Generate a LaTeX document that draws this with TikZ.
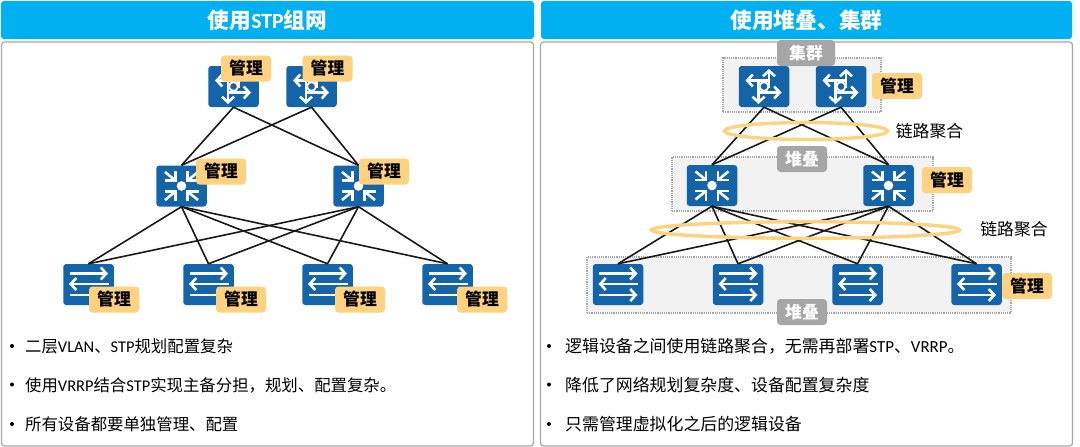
\documentclass[tikz,border=0pt]{standalone}
\usepackage{fontspec}
\usepackage{xcolor}
\setmainfont{Noto Sans CJK SC}
\newfontfamily\latfont{Carlito}
\usetikzlibrary{positioning, arrows.meta, shapes.geometric, calc}

\newcommand{\lat}[1]{{\latfont #1}}
\definecolor{headblue}{HTML}{00B0F0}
\definecolor{devblue}{HTML}{1464AA}
\definecolor{tagyellow}{HTML}{FFD27F}
\definecolor{panelgray}{HTML}{A6A6A6}

\tikzset{
    headbar/.style={fill=headblue, rounded corners=3pt, minimum width=533pt, minimum height=38pt,
        inner sep=0pt, text=white, font=\fontsize{21.7}{24}\selectfont\bfseries},
    panel/.style={draw=panelgray, line width=1.2pt, rounded corners=3pt, fill=white,
        minimum width=532pt, minimum height=404pt, inner sep=0pt},
    device/.style={fill=devblue, rounded corners=3pt, minimum width=50.5pt, minimum height=41pt, inner sep=0pt},
    mgmt/.style={fill=tagyellow, rounded corners=3.5pt, minimum width=50pt, minimum height=26pt, inner sep=0pt,
        font=\fontsize{16.8}{20}\selectfont\bfseries},
    graytag/.style={fill=panelgray, rounded corners=3.5pt, minimum width=50pt, minimum height=26pt, inner sep=0pt,
        text=white, font=\fontsize{16.8}{20}\selectfont\bfseries},
    groupbox/.style={draw=panelgray, densely dotted, line width=1.2pt, fill=black!5, inner sep=0pt},
    link/.style={line width=1.6pt, black!90},
    lag/.style={draw=tagyellow, line width=3.4pt, ellipse, inner sep=0pt},
    caption/.style={font=\fontsize{16.8}{20}\selectfont, inner sep=0pt},
    bulleted/.style={font=\fontsize{16.4}{20}\selectfont, inner sep=0pt, anchor=west},
    bulletedR/.style={font=\fontsize{16.9}{20}\selectfont, inner sep=0pt, anchor=west},
    bulletdot/.style={circle, fill=black, minimum size=4pt, inner sep=0pt},
    whiteline/.style={draw=white, line width=2.6pt},
    whitearrow/.style={draw=white, line width=2.6pt, -{Straight Barb[length=5.5pt,width=12pt,line width=2.6pt]}},
    routericon/.pic={
        \draw[white, line width=1.8pt] (0,0) circle (4.4);
        \draw[whitearrow] (5,1) -- (5,-17.5);
        \draw[whitearrow] (-5,6) -- (17.5,6);
        \draw[whitearrow] (-5.5,-6) -- (-5.5,17.5);
        \draw[whitearrow] (6,-6) -- (-18.5,-6);
    },
    coreicon/.pic={
        \fill[white] (0,0) circle (4.8);
        \foreach \sx/\sy in {-1/-1,1/-1,-1/1,1/1} {
            \draw[whiteline] (\sx*6,\sy*5.5) -- (\sx*16.5,\sy*14);
            \draw[whiteline] (\sx*17,\sy*5.5) -- (\sx*6,\sy*5.5) -- (\sx*6,\sy*15);
        }
    },
    accessicon/.pic={
        \draw[whitearrow] (-19,-11) -- (19.5,-11);
        \draw[whitearrow] (20,-0.5) -- (-19.5,-0.5);
        \draw[whitearrow] (-19,10.5) -- (19.5,10.5);
    },
}

\begin{document}
\begin{tikzpicture}[x=1pt,y=-1pt]
    \useasboundingbox (0,0) rectangle (1080,447);

    % Panels and titles
    \node[panel] (panelL) at (267.5,244) {};
    \node[panel] (panelR) at (806.5,244) {};
    \node[headbar] (headL) at (267.5,20) {使用\lat{STP}组网};
    \node[headbar, minimum width=531pt] (headR) at (806.5,20) {使用堆叠、集群};

    % Left network
    \foreach \name/\x in {r1/233.5, r2/311.5} {
        \node[device] (\name) at (\x,86.5) {};
        \pic at (\name) {routericon};
    }
    \foreach \name/\x in {s1/181.5, s2/358.5} {
        \node[device] (\name) at (\x,186) {};
        \pic at (\name) {coreicon};
    }
    \foreach \name/\x in {a1/88.5, a2/208.5, a3/327.5, a4/447.5} {
        \node[device] (\name) at (\x,284.5) {};
        \pic at (\name) {accessicon};
    }
    \foreach \up in {r1,r2}
        \foreach \down in {s1,s2}
            \draw[link] (\up.south) -- (\down.north);
    \foreach \up in {s1,s2}
        \foreach \down in {a1,a2,a3,a4}
            \draw[link] (\up.south) -- (\down.north);

    % Left tags
    \node[mgmt] (mr1) at (246,68.5) {管理};
    \node[mgmt] (mr2) at (327.5,68.5) {管理};
    \node[mgmt] (ms1) at (221,171.5) {管理};
    \node[mgmt] (ms2) at (384,171.5) {管理};
    \node[mgmt] (ma1) at (114,299.5) {管理};
    \node[mgmt] (ma2) at (241,299.5) {管理};
    \node[mgmt] (ma3) at (360,299.5) {管理};
    \node[mgmt] (ma4) at (482,299.5) {管理};

    % Right network, grouped
    \node[groupbox, minimum width=158pt, minimum height=54pt] (boxtop) at (802,85) {};
    \node[groupbox, minimum width=261pt, minimum height=54pt] (boxmid) at (802.5,184) {};
    \node[groupbox, minimum width=424pt, minimum height=56pt] (boxlow) at (799,285) {};

    \foreach \name/\x in {R1/764, R2/841} {
        \node[device] (\name) at (\x,86.5) {};
        \pic at (\name) {routericon};
    }
    \foreach \name/\x in {S1/712, S2/888.5} {
        \node[device] (\name) at (\x,185.5) {};
        \pic at (\name) {coreicon};
    }
    \foreach \name/\x in {A1/618, A2/738, A3/857.5, A4/976.5} {
        \node[device] (\name) at (\x,284.5) {};
        \pic at (\name) {accessicon};
    }
    \foreach \up in {R1,R2}
        \foreach \down in {S1,S2}
            \draw[link] (\up.south) -- (\down.north);
    \foreach \up in {S1,S2}
        \foreach \down in {A1,A2,A3,A4}
            \draw[link] (\up.south) -- (\down.north);

    % Link aggregation rings
    \node[lag, minimum width=163pt, minimum height=17pt] (lagtop) at (806,131) {};
    \node[lag, minimum width=308pt, minimum height=16.5pt] (lagmid) at (805.5,230) {};
    \node[caption] (lagtoptext) at (929.5,131) {链路聚合};
    \node[caption] (lagmidtext) at (1014,229) {链路聚合};

    % Right tags
    \node[graytag, minimum width=58pt] (gtop) at (806,53) {集群};
    \node[graytag] (gmid) at (802,159) {堆叠};
    \node[graytag] (glow) at (802,312) {堆叠};
    \node[mgmt] (mtop) at (897,86) {管理};
    \node[mgmt] (mmid) at (947,180) {管理};
    \node[mgmt] (mlow) at (1027,286) {管理};

    % Bullet lists
    \foreach \name/\y in {bl1/346, bl2/384.5, bl3/424}
        \node[bulletdot] (\name) at (12,\y) {};
    \foreach \name/\y in {br1/346, br2/384.5, br3/424}
        \node[bulletdot] (\name) at (549,\y) {};
    \node[bulleted] (tl1) at (25,346) {二层\lat{VLAN}、\lat{STP}规划配置复杂};
    \node[bulleted] (tl2) at (25,385) {使用\lat{VRRP}结合\lat{STP}实现主备分担，规划、配置复杂。};
    \node[bulleted] (tl3) at (25,424) {所有设备都要单独管理、配置};
    \node[bulletedR] (tr1) at (565,346) {逻辑设备之间使用链路聚合，无需再部署\lat{STP}、\lat{VRRP}。};
    \node[bulletedR] (tr2) at (565,385) {降低了网络规划复杂度、设备配置复杂度};
    \node[bulletedR] (tr3) at (565,424) {只需管理虚拟化之后的逻辑设备};
\end{tikzpicture}
\end{document}
